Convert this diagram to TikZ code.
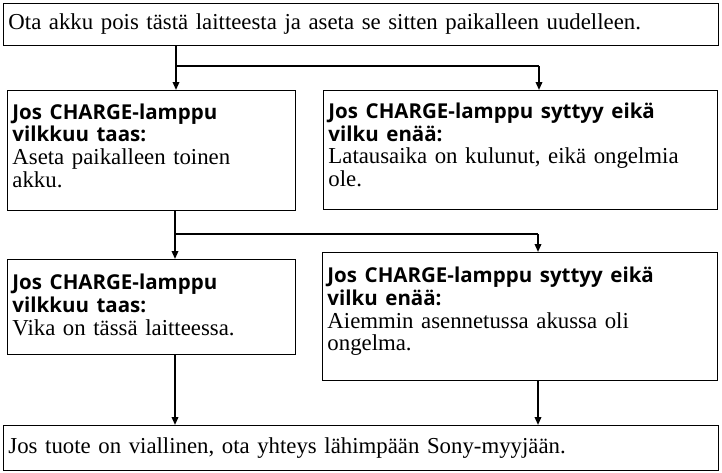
\documentclass[tikz,border=0pt]{standalone}
\usepackage{fontspec}
\setmainfont{Liberation Serif}
\newfontfamily\headfont{Open Sans}
\usetikzlibrary{arrows.meta}
\tikzset{
  x=1pt, y=-1pt,
  box/.style={draw, line width=0.9pt, anchor=north west, align=left, inner xsep=5pt, inner ysep=0pt,
    font=\fontsize{22.8}{22.7}\selectfont},
  lift/.style={execute at end node={\par\vspace{#1}}},
  conn/.style={line width=1.8pt},
  arr/.style={line width=1.8pt, -{Triangle[width=6.5pt,length=8pt]}},
}
\newcommand{\hd}[1]{{\headfont\fontsize{20.5}{22.7}\selectfont\bfseries #1}}
\begin{document}
\begin{tikzpicture}
\useasboundingbox (0,0) rectangle (722,472);
\node[box, text width=705pt, minimum height=42pt] (top) at (3,3) {Ota akku pois tästä laitteesta ja aseta se sitten paikalleen uudelleen.};
\node[box, lift=10pt, text width=278pt, minimum height=120pt] (a1) at (7,90) {\hd{Jos CHARGE-lamppu\\vilkkuu taas:}\\Aseta paikalleen toinen\\akku.};
\node[box, lift=10pt, text width=384pt, minimum height=119pt] (b1) at (323,90) {\hd{Jos CHARGE-lamppu syttyy eikä\\vilku enää:}\\Latausaika on kulunut, eikä ongelmia\\ole.};
\node[box, lift=4pt, text width=278pt, minimum height=95pt] (a2) at (7,259) {\hd{Jos CHARGE-lamppu\\vilkkuu taas:}\\Vika on tässä laitteessa.};
\node[box, lift=10pt, text width=385pt, minimum height=128pt] (b2) at (322,252) {\hd{Jos CHARGE-lamppu syttyy eikä\\vilku enää:}\\Aiemmin asennetussa akussa oli\\ongelma.};
\node[box, text width=705pt, minimum height=45pt] (bot) at (3,425) {Jos tuote on viallinen, ota yhteys lähimpään Sony-myyjään.};
\coordinate (j1) at (176,66);
\coordinate (j1r) at (539,66);
\coordinate (j2) at (175,234);
\coordinate (j2r) at (538,234);
\draw[arr] (top.south -| j1) -- (a1.north -| j1);
\draw[conn] (j1) -- (j1r);
\draw[arr] (j1r) -- (b1.north -| j1r);
\draw[arr] (a1.south -| j2) -- (a2.north -| j2);
\draw[conn] (j2) -- (j2r);
\draw[arr] (j2r) -- (b2.north -| j2r);
\draw[arr] (a2.south -| j2) -- (bot.north -| j2);
\draw[arr] (b2.south -| j2r) -- (bot.north -| j2r);
\end{tikzpicture}
\end{document}
